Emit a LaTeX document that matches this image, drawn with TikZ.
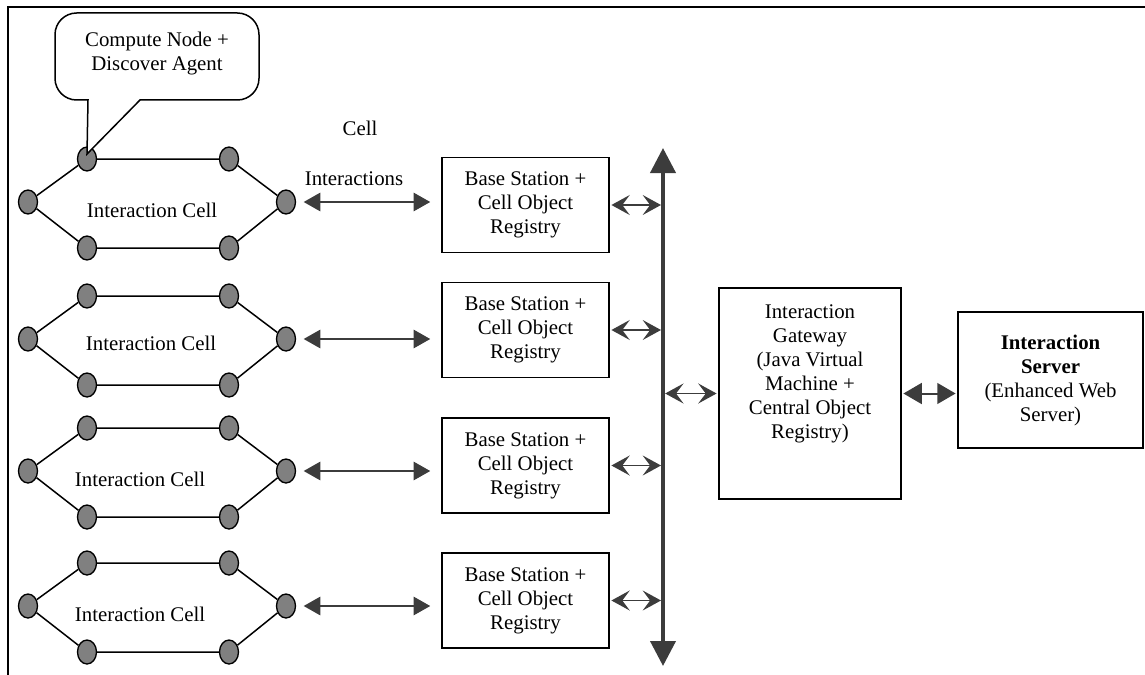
\documentclass[tikz,border=0pt]{standalone}
\usepackage{fontspec}
\setmainfont{Liberation Serif}
\usetikzlibrary{arrows.meta,shapes.geometric}

\definecolor{nodegray}{HTML}{808080}
\definecolor{arrowgray}{HTML}{3C3C3C}

\begin{document}
\begin{tikzpicture}[x=0.6pt,y=-0.6pt,font=\fontsize{12.5}{14.4}\selectfont,
    cellnode/.style={ellipse,draw,fill=nodegray,line width=0.8pt,inner sep=0pt,
                     minimum width=11.4pt,minimum height=14.4pt},
    celledge/.style={line width=0.9pt},
    stationbox/.style={draw,line width=0.9pt,align=center,inner sep=0pt,
                       minimum width=100.2pt,minimum height=57pt},
    bigarrow/.style={arrowgray,line width=1.2pt,
                     {Triangle[length=10pt,width=11pt]}-{Triangle[length=10pt,width=11pt]}},
    busline/.style={arrowgray,line width=2.4pt,
                    {Triangle[length=15pt,width=15pt]}-{Triangle[length=15pt,width=15pt]}},
    smallarrow/.style={arrowgray,line width=1pt,
                       {Stealth[length=11pt,width=12pt,inset=4.5pt]}-{Stealth[length=11pt,width=12pt,inset=4.5pt]}},
    serverarrow/.style={arrowgray,line width=1.2pt,
                        {Triangle[length=11pt,width=12.5pt]}-{Triangle[length=11pt,width=12.5pt]}}]
  \useasboundingbox (0,0) rectangle (1145,675);

  % frame
  \draw[line width=0.9pt] (1145,7) -- (8,7) -- (8,675);

  % base stations
  \foreach \i/\y in {1/205,2/330,3/465.5,4/600.5}
    \node[stationbox] (b\i) at (525.5,\y) {Base Station +\\Cell Object\\Registry};

  % interaction cells
  \foreach \i/\y/\tx/\ty in {1/202/152/210,2/339/151/343,3/471/140/479,4/606/140/614}{
    \node[cellnode] (c\i-l)  at (28,\y)     {};
    \node[cellnode] (c\i-tl) at (87,\y-43)  {};
    \node[cellnode] (c\i-tr) at (229,\y-43) {};
    \node[cellnode] (c\i-r)  at (286,\y)    {};
    \node[cellnode] (c\i-br) at (229,\y+46) {};
    \node[cellnode] (c\i-bl) at (87,\y+46)  {};
    \draw[celledge] (c\i-l) -- (c\i-tl) -- (c\i-tr) -- (c\i-r)
                    -- (c\i-br) -- (c\i-bl) -- (c\i-l);
    \node (t\i) at (\tx,\ty) {Interaction Cell};
    \draw[bigarrow,shorten <=4.5pt,shorten >=6.6pt] (c\i-r) -- (c\i-r -| b\i.west);
  }

  \node (celllbl)  at (360,128) {Cell};
  \node (interlbl) at (354,179) {Interactions};

  % backbone
  \coordinate (bustop) at (663,148);
  \coordinate (busbot) at (663,666);
  \draw[busline] (bustop) -- (busbot);
  \foreach \i in {1,...,4}
    \draw[smallarrow,shorten <=1pt,shorten >=1.2pt] (b\i.east) -- (b\i.east -| bustop);

  % gateway and server
  \node[stationbox,minimum width=109.2pt,minimum height=126.6pt] (gw) at (810,393.5) {};
  \node[align=center] (gwtext) at (810,373.5)
    {Interaction\\Gateway\\(Java Virtual\\Machine +\\Central Object\\Registry)};
  \node[stationbox,minimum width=111pt,minimum height=81.6pt] (srv) at (1050.5,380)
    {\textbf{Interaction}\\\textbf{Server}\\(Enhanced Web\\Server)};
  \draw[smallarrow,shorten <=1.3pt,shorten >=1pt] (gw.west -| bustop) -- (gw.west);
  \draw[serverarrow,shorten <=1pt,shorten >=1pt] (gw.east) -- (srv.west |- gw.east);

  % callout
  \coordinate (tip) at ([yshift=3pt]c1-tl.center);
  \draw[line width=0.9pt,fill=white] (tip) -- (140,100)
    {[rounded corners=13pt] -- (259,100) -- (259,13) -- (55,13) -- (55,100)} -- (88,100) -- cycle;
  \node[align=center] (calltext) at (157,54) {Compute Node +\\Discover Agent};
\end{tikzpicture}
\end{document}
